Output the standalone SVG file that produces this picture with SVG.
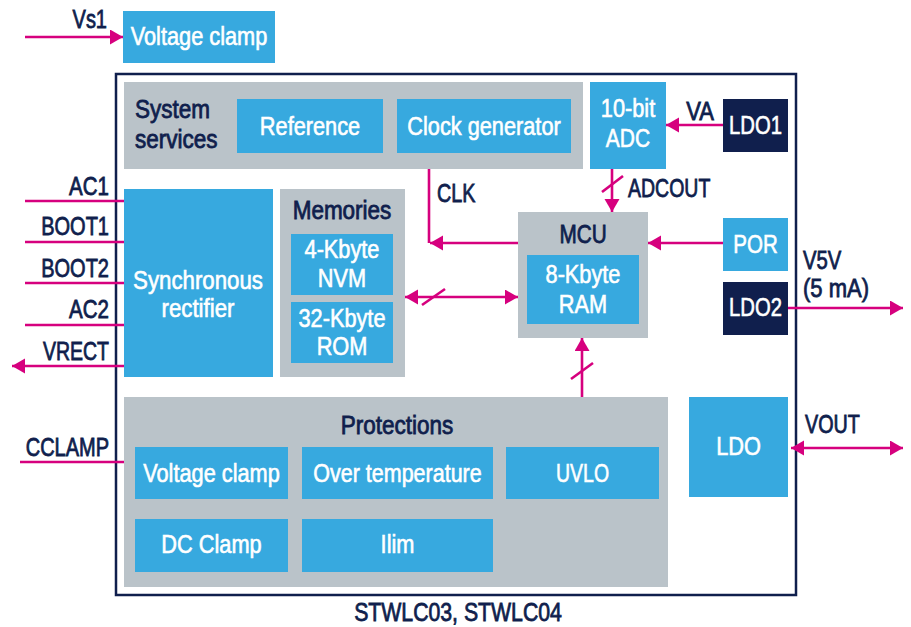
<svg xmlns="http://www.w3.org/2000/svg" width="911" height="627" viewBox="0 0 911 627">
<defs>
<style>
.blue{fill:#37a9df}
.gray{fill:#bac3c9}
.navy{fill:#101f4d}
.w{fill:#ffffff;stroke:#ffffff;stroke-width:0.6px;font-family:"Liberation Sans",Arial,sans-serif;font-size:25px}
.n{fill:#101f4d;stroke:#101f4d;stroke-width:0.8px;font-family:"Liberation Sans",Arial,sans-serif;font-size:25px}
.c{text-anchor:middle}
.r{text-anchor:end}
.ln{stroke:#d6007e;stroke-width:2.6;fill:none}
</style>
<marker id="ah" markerUnits="userSpaceOnUse" markerWidth="14" markerHeight="16" refX="13" refY="7.5" orient="auto-start-reverse" viewBox="0 0 14 16">
<path d="M0,0 L13,7.5 L0,15 z" fill="#d6007e"/>
</marker>
</defs>
<rect x="0" y="0" width="911" height="627" fill="#ffffff"/>

<rect id="outer" x="116" y="74" width="680" height="521" fill="#ffffff" stroke="#101f4d" stroke-width="2.5"/>

<g id="vclamp-top"><rect class="blue" x="123" y="11" width="152" height="52"/><text class="w c" transform="translate(199 45) scale(0.87 1)">Voltage clamp</text></g>

<g id="system-services"><rect class="gray" x="124" y="82" width="459" height="87"/>
<text class="n" transform="translate(135 118) scale(0.9 1)">System</text>
<text class="n" transform="translate(135 148) scale(0.9 1)">services</text></g>
<g id="reference"><rect class="blue" x="237" y="99" width="146" height="54"/><text class="w c" transform="translate(310 135) scale(0.87 1)">Reference</text></g>
<g id="clockgen"><rect class="blue" x="397" y="99" width="174" height="54"/><text class="w c" transform="translate(484 135) scale(0.87 1)">Clock generator</text></g>
<g id="adc"><rect class="blue" x="590" y="82" width="76" height="87"/><text class="w c" transform="translate(628 117) scale(0.87 1)">10-bit</text><text class="w c" transform="translate(628 147) scale(0.84 1)">ADC</text></g>
<g id="ldo1"><rect class="navy" x="723" y="99" width="65" height="53"/><text class="w c" transform="translate(755.5 134) scale(0.81 1)">LDO1</text></g>

<g id="mcu"><rect class="gray" x="518" y="212" width="130" height="126"/><text class="n c" transform="translate(583 243) scale(0.83 1)">MCU</text>
<rect class="blue" x="527" y="255" width="112" height="69"/><text class="w c" transform="translate(583 283) scale(0.87 1)">8-Kbyte</text><text class="w c" transform="translate(583 313) scale(0.87 1)">RAM</text></g>
<g id="por"><rect class="blue" x="723" y="218" width="65" height="53"/><text class="w c" transform="translate(755.5 253) scale(0.82 1)">POR</text></g>
<g id="ldo2"><rect class="navy" x="723" y="282" width="65" height="53"/><text class="w c" transform="translate(755.5 316) scale(0.81 1)">LDO2</text></g>

<g id="memories"><rect class="gray" x="280" y="189" width="125" height="188"/><text class="n c" transform="translate(342 219) scale(0.9 1)">Memories</text>
<rect class="blue" x="291" y="234" width="102" height="61"/><text class="w c" transform="translate(342 258) scale(0.87 1)">4-Kbyte</text><text class="w c" transform="translate(342 287) scale(0.87 1)">NVM</text>
<rect class="blue" x="291" y="302" width="102" height="61"/><text class="w c" transform="translate(342 327) scale(0.87 1)">32-Kbyte</text><text class="w c" transform="translate(342 355) scale(0.87 1)">ROM</text></g>

<g id="sync-rect"><rect class="blue" x="124" y="189" width="149" height="188"/><text class="w c" transform="translate(198 289) scale(0.89 1)">Synchronous</text><text class="w c" transform="translate(198 317) scale(0.89 1)">rectifier</text></g>

<g id="protections"><rect class="gray" x="124" y="397" width="544" height="190"/><text class="n c" transform="translate(397 434) scale(0.9 1)">Protections</text>
<g id="p-vclamp"><rect class="blue" x="135" y="447" width="153" height="52"/><text class="w c" transform="translate(211.5 482) scale(0.87 1)">Voltage clamp</text></g>
<g id="p-overtemp"><rect class="blue" x="302" y="447" width="191" height="52"/><text class="w c" transform="translate(397.5 482) scale(0.86 1)">Over temperature</text></g>
<g id="p-uvlo"><rect class="blue" x="506" y="447" width="153" height="52"/><text class="w c" transform="translate(582.5 482) scale(0.78 1)">UVLO</text></g>
<g id="p-dcclamp"><rect class="blue" x="135" y="519" width="153" height="53"/><text class="w c" transform="translate(211.5 553) scale(0.87 1)">DC Clamp</text></g>
<g id="p-ilim"><rect class="blue" x="302" y="519" width="191" height="53"/><text class="w c" transform="translate(397.5 553) scale(0.87 1)">Ilim</text></g>
</g>

<g id="ldo"><rect class="blue" x="689" y="397" width="99" height="100"/><text class="w c" transform="translate(738.5 455) scale(0.87 1)">LDO</text></g>

<g id="connectors">
<line class="ln" x1="25" y1="37" x2="123" y2="37" marker-end="url(#ah)"/>
<line class="ln" x1="25" y1="201" x2="124" y2="201"/>
<line class="ln" x1="25" y1="242" x2="124" y2="242"/>
<line class="ln" x1="25" y1="283" x2="124" y2="283"/>
<line class="ln" x1="25" y1="325" x2="124" y2="325"/>
<line class="ln" x1="124" y1="366" x2="12" y2="366" marker-end="url(#ah)"/>
<line class="ln" x1="20" y1="462" x2="124" y2="462"/>
<path class="ln" d="M429 169 V243"/>
<line class="ln" x1="518" y1="243" x2="430" y2="243" marker-end="url(#ah)"/>
<line class="ln" x1="612" y1="169" x2="612" y2="212" marker-end="url(#ah)"/>
<line class="ln" x1="602" y1="192" x2="623" y2="176"/>
<line class="ln" x1="723" y1="125" x2="666" y2="125" marker-end="url(#ah)"/>
<line class="ln" x1="723" y1="243" x2="648" y2="243" marker-end="url(#ah)"/>
<line class="ln" x1="788" y1="308" x2="903" y2="308" marker-end="url(#ah)"/>
<line class="ln" x1="791" y1="448" x2="903" y2="448" marker-start="url(#ah)" marker-end="url(#ah)"/>
<line class="ln" x1="405" y1="297" x2="518" y2="297" marker-start="url(#ah)" marker-end="url(#ah)"/>
<line class="ln" x1="422" y1="305" x2="445" y2="289"/>
<line class="ln" x1="582" y1="397" x2="582" y2="338" marker-end="url(#ah)"/>
<line class="ln" x1="571" y1="379" x2="593" y2="363"/>
</g>

<g id="labels">
<text class="n r" transform="translate(107 28) scale(0.8 1)">Vs1</text>
<text class="n r" transform="translate(109 195) scale(0.82 1)">AC1</text>
<text class="n r" transform="translate(109 235) scale(0.8 1)">BOOT1</text>
<text class="n r" transform="translate(109 277) scale(0.8 1)">BOOT2</text>
<text class="n r" transform="translate(109 318) scale(0.82 1)">AC2</text>
<text class="n r" transform="translate(109 360) scale(0.78 1)">VRECT</text>
<text class="n r" transform="translate(109 456) scale(0.8 1)">CCLAMP</text>
<text class="n c" transform="translate(700 120) scale(0.88 1)">VA</text>
<text class="n" transform="translate(628 197) scale(0.78 1)">ADCOUT</text>
<text class="n" transform="translate(437 202) scale(0.79 1)">CLK</text>
<text class="n" transform="translate(803 269) scale(0.81 1)">V5V</text>
<text class="n" transform="translate(803 297) scale(0.88 1)">(5 mA)</text>
<text class="n" transform="translate(805 433) scale(0.79 1)">VOUT</text>
<text class="n c" transform="translate(458 621) scale(0.85 1)">STWLC03, STWLC04</text>
</g>
</svg>
